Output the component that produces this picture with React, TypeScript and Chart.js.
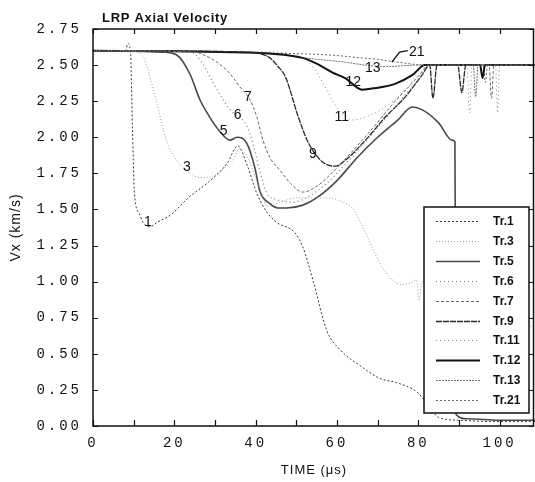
import React, { useEffect, useRef } from 'react';
import { Chart, registerables } from 'chart.js';

Chart.register(...registerables);

const TITLE = 'LRP Axial Velocity';
const X_TITLE = 'TIME (μs)';
const Y_TITLE = 'Vx (km/s)';
const X_MIN = 0;
const X_MAX = 108.7;
const Y_MIN = 0;
const Y_MAX = 2.75;

const tr1T = [0, 8, 8.6, 9.2, 9.7, 10.2, 11.4, 12.3, 14, 15.7, 19, 23.8, 28, 33, 35.6, 38, 40.3, 42.8, 45.2, 49.6, 51.6, 54.1, 57.5, 60.7, 66.1, 70.5, 74.7, 79.9, 82.5, 85, 90, 100, 108.7];
const tr1V = [2.6, 2.6, 2.65, 2.6, 2.07, 1.61, 1.47, 1.41, 1.38, 1.41, 1.46, 1.59, 1.68, 1.82, 1.94, 1.8, 1.61, 1.48, 1.41, 1.34, 1.24, 1.01, 0.66, 0.53, 0.41, 0.33, 0.3, 0.23, 0.14, 0.06, 0.04, 0.03, 0.03];

const tr3T = [0, 9, 12, 15.5, 18, 20.6, 24, 26.3, 29.5, 32, 34.4, 36, 38, 40.5, 43, 46, 50, 53, 57.5, 61.5, 64, 67, 70.5, 73.7, 76, 78, 79.6, 80.2, 81, 85, 95, 108.7];
const tr3V = [2.6, 2.6, 2.57, 2.26, 1.98, 1.84, 1.75, 1.72, 1.73, 1.78, 1.84, 1.92, 1.86, 1.68, 1.52, 1.55, 1.58, 1.58, 1.58, 1.55, 1.5, 1.34, 1.13, 1.01, 0.98, 0.99, 1.01, 0.87, 1.0, 0.95, 0.82, 0.68];

const tr5T = [0, 17, 20.6, 23.8, 26.3, 28.7, 31.2, 33.7, 35.4, 37.8, 39.8, 41, 43.5, 45.5, 47.6, 51.6, 55, 60, 65, 70, 75, 78.5, 81, 85, 88.3, 89, 89.3, 92, 100, 108.7];
const tr5V = [2.6, 2.59, 2.57, 2.44, 2.26, 2.14, 2.04, 1.98, 2.0, 1.96, 1.79, 1.63, 1.54, 1.51, 1.51, 1.53, 1.58, 1.7, 1.86, 2.0, 2.12, 2.21, 2.19, 2.1, 1.98, 1.97, 0.08, 0.05, 0.04, 0.04];

const tr6T = [0, 24, 27, 29.5, 32, 33.7, 37.8, 39.3, 41, 42.8, 45, 49, 53, 57, 62, 67, 72, 77, 80, 81.5, 83, 108.7];
const tr6V = [2.6, 2.59, 2.51, 2.38, 2.26, 2.19, 2.08, 1.96, 1.77, 1.61, 1.57, 1.55, 1.59, 1.67, 1.81, 1.97, 2.13, 2.3, 2.4, 2.47, 2.5, 2.5];

const tr7T = [0, 25, 28, 30.5, 33.7, 36.1, 38.6, 40.3, 41.8, 43.5, 46, 48.6, 51.6, 55, 59, 64, 69, 74, 78, 80.5, 82.5, 97.4, 98, 98.6, 108.7];
const tr7V = [2.6, 2.59, 2.56, 2.52, 2.44, 2.35, 2.26, 2.14, 1.98, 1.86, 1.77, 1.68, 1.62, 1.66, 1.76, 1.91, 2.07, 2.24, 2.36, 2.44, 2.5, 2.5, 2.27, 2.5, 2.5];

const tr9T = [0, 38, 41, 43.5, 45.5, 47.3, 50.5, 53, 56.4, 59.6, 62, 67, 71.9, 76.8, 80.9, 82.8, 83.6, 84.6, 89.7, 90.7, 91.7, 108.7];
const tr9V = [2.6, 2.59, 2.58, 2.55, 2.49, 2.42, 2.14, 1.96, 1.83, 1.8, 1.84, 1.98, 2.14, 2.28, 2.43, 2.5, 2.27, 2.5, 2.5, 2.31, 2.5, 2.5];

const tr11T = [0, 45, 51, 54, 57.1, 58.8, 61, 63.8, 67, 71.9, 77.5, 81.7, 92, 92.6, 93.2, 99, 99.5, 100, 108.7];
const tr11V = [2.6, 2.59, 2.56, 2.49, 2.35, 2.26, 2.17, 2.12, 2.14, 2.21, 2.35, 2.5, 2.5, 2.17, 2.5, 2.5, 2.17, 2.5, 2.5];

const tr12T = [0, 40, 51.5, 55, 58.8, 62, 66.2, 69.3, 74.3, 78.5, 81.7, 95.2, 95.8, 96.4, 108.7];
const tr12V = [2.6, 2.585, 2.55, 2.51, 2.45, 2.41, 2.33, 2.34, 2.37, 2.43, 2.5, 2.5, 2.41, 2.5, 2.5];

const tr13T = [0, 45, 52, 62, 67, 72, 80, 93.5, 94.1, 94.7, 108.7];
const tr13V = [2.6, 2.58, 2.55, 2.52, 2.5, 2.49, 2.5, 2.5, 2.28, 2.5, 2.5];

const tr21T = [0, 40, 58, 66, 70, 75, 82, 96, 96.5, 97, 108.7];
const tr21V = [2.6, 2.585, 2.57, 2.55, 2.54, 2.52, 2.5, 2.5, 2.38, 2.5, 2.5];

const SERIES_NAMES = ['Tr.1', 'Tr.3', 'Tr.5', 'Tr.6', 'Tr.7', 'Tr.9', 'Tr.11', 'Tr.12', 'Tr.13', 'Tr.21'];
const SERIES_T = [tr1T, tr3T, tr5T, tr6T, tr7T, tr9T, tr11T, tr12T, tr13T, tr21T];
const SERIES_V = [tr1V, tr3V, tr5V, tr6V, tr7V, tr9V, tr11V, tr12V, tr13V, tr21V];
const SERIES_COLORS = ['#3a3a3a', '#9a9a9a', '#4a4a4a', '#7a7a7a', '#666666', '#2a2a2a', '#8a8a8a', '#111111', '#707070', '#666666'];
const SERIES_WIDTHS = [1, 1, 1.6, 1.2, 1, 1.3, 1, 2, 1, 1];
const SERIES_DASHES = [[2, 2], [1, 2], [], [1, 3], [3, 2], [6, 1], [1, 3], [], [2, 1], [2, 2]];

const CURVE_LABELS = ['1', '3', '5', '6', '7', '9', '11', '12', '13', '21'];
const LABEL_T = [13.5, 23.1, 32.1, 35.6, 38.1, 54.1, 61.2, 64.0, 68.8, 79.6];
const LABEL_V = [1.41, 1.79, 2.04, 2.15, 2.28, 1.88, 2.14, 2.38, 2.48, 2.59];
const LEADER21_T = [73.5, 75.4, 77.4];
const LEADER21_V = [2.52, 2.59, 2.6];

const SANS = '"Liberation Sans", Arial, sans-serif';
const MONO = '"Liberation Mono", "DejaVu Sans Mono", monospace';

const decorPlugin = {
  id: 'decor',
  beforeDraw(chart: any) {
    chart.ctx.letterSpacing = '1px';
  },
  afterDatasetsDraw(chart: any) {
    const ctx = chart.ctx;
    const { left, right, top, bottom } = chart.chartArea;
    const xs = chart.scales.x;
    const ys = chart.scales.y;
    ctx.save();
    ctx.letterSpacing = '0px';
    ctx.setLineDash([]);
    ctx.strokeStyle = '#111';
    ctx.lineWidth = 1.5;
    ctx.strokeRect(left, top, right - left - 1.5, bottom - top);
    ctx.lineWidth = 1.2;
    xs.ticks.forEach((t: any) => {
      const px = Math.round(xs.getPixelForValue(t.value)) + 0.5;
      ctx.beginPath();
      ctx.moveTo(px, bottom);
      ctx.lineTo(px, bottom - 6);
      ctx.moveTo(px, top);
      ctx.lineTo(px, top + 5);
      ctx.stroke();
    });
    ys.ticks.forEach((t: any) => {
      const py = Math.round(ys.getPixelForValue(t.value)) + 0.5;
      ctx.beginPath();
      ctx.moveTo(left, py);
      ctx.lineTo(left + 5, py);
      ctx.moveTo(right - 1.5, py);
      ctx.lineTo(right - 6, py);
      ctx.stroke();
    });
    // curve labels
    ctx.fillStyle = '#111';
    ctx.font = '14px ' + SANS;
    ctx.textAlign = 'center';
    ctx.textBaseline = 'middle';
    CURVE_LABELS.forEach((s, i) => {
      ctx.fillText(s, xs.getPixelForValue(LABEL_T[i]), ys.getPixelForValue(LABEL_V[i]));
    });
    ctx.beginPath();
    ctx.lineWidth = 1.3;
    LEADER21_T.forEach((t, i) => {
      const px = xs.getPixelForValue(t);
      const py = ys.getPixelForValue(LEADER21_V[i]);
      if (i === 0) ctx.moveTo(px, py);
      else ctx.lineTo(px, py);
    });
    ctx.stroke();
    ctx.restore();
    ctx.letterSpacing = '3px';
  },
  afterDraw(chart: any) {
    const ctx = chart.ctx;
    ctx.letterSpacing = '0px';
    const { left, right, bottom } = chart.chartArea;
    ctx.save();
    // title
    ctx.fillStyle = '#111';
    ctx.font = 'bold 13px ' + SANS;
    ctx.textAlign = 'left';
    ctx.textBaseline = 'middle';
    ctx.letterSpacing = '0.7px';
    ctx.fillText(TITLE, left + 9, 18);
    ctx.letterSpacing = '0px';
    // legend
    const boxR = right - 6;
    const boxL = boxR - 105;
    const boxB = bottom - 13;
    const boxT = boxB - 206;
    ctx.fillStyle = '#fff';
    ctx.fillRect(boxL, boxT, boxR - boxL, boxB - boxT);
    ctx.strokeStyle = '#111';
    ctx.lineWidth = 1.5;
    ctx.setLineDash([]);
    ctx.strokeRect(boxL, boxT, boxR - boxL, boxB - boxT);
    chart.data.datasets.forEach((ds: any, i: number) => {
      const y = Math.round(boxT + 14 + i * 19.9) + 0.5;
      ctx.strokeStyle = ds.borderColor;
      ctx.lineWidth = ds.borderWidth;
      ctx.setLineDash(ds.borderDash);
      ctx.beginPath();
      ctx.moveTo(boxL + 12, y);
      ctx.lineTo(boxL + 56, y);
      ctx.stroke();
      ctx.setLineDash([]);
      ctx.fillStyle = '#111';
      ctx.font = 'bold 12px ' + SANS;
      ctx.textAlign = 'left';
      ctx.textBaseline = 'middle';
      ctx.fillText(ds.label, boxL + 69, y + 0.5);
    });
    ctx.restore();
  },
};

export default function App() {
  const ref = useRef<HTMLCanvasElement>(null);
  useEffect(() => {
    if (!ref.current) return;
    const datasets = SERIES_NAMES.map((name, i) => ({
      label: name,
      data: SERIES_T[i].map((t, j) => ({ x: t, y: SERIES_V[i][j] })),
      borderColor: SERIES_COLORS[i],
      borderWidth: SERIES_WIDTHS[i],
      borderDash: SERIES_DASHES[i],
      pointRadius: 0,
      fill: false,
      cubicInterpolationMode: 'monotone' as const,
    }));
    const chart = new Chart(ref.current, {
      type: 'line',
      data: { datasets },
      options: {
        animation: false,
        responsive: false,
        devicePixelRatio: 1,
        layout: { padding: { top: 29, left: 0, right: 0, bottom: 0 } },
        plugins: { legend: { display: false }, title: { display: false }, tooltip: { enabled: false } },
        scales: {
          x: {
            type: 'linear',
            min: X_MIN,
            max: X_MAX,
            grid: { display: false, drawTicks: false },
            border: { display: false },
            ticks: {
              stepSize: 10,
              includeBounds: false,
              autoSkip: false,
              maxRotation: 0,
              padding: 9,
              z: 1,
              color: '#111',
              font: { family: MONO, size: 14 },
              callback: (v: any) => (Number(v) % 20 === 0 ? String(v) : ''),
            },
            title: { display: true, text: X_TITLE, color: '#111', font: { family: SANS, size: 13 }, padding: { top: 0, bottom: 4 } },
            afterFit: (s: any) => { s.height = 56; },
          },
          y: {
            type: 'linear',
            min: Y_MIN,
            max: Y_MAX,
            grid: { display: false, drawTicks: false },
            border: { display: false },
            ticks: {
              stepSize: 0.25,
              padding: 11,
              z: 1,
              color: '#111',
              font: { family: MONO, size: 14 },
              callback: (v: any) => Number(v).toFixed(2),
            },
            title: { display: true, text: Y_TITLE, color: '#111', font: { family: SANS, size: 14 }, padding: { top: 8, bottom: 0 } },
            afterFit: (s: any) => { s.width = 93; },
          },
        },
      },
      plugins: [decorPlugin],
    });
    return () => chart.destroy();
  }, []);
  return (
    <div style={{ position: 'fixed', left: 0, top: 0, width: 535, height: 482, background: '#fff' }}>
      <canvas ref={ref} width={535} height={482} />
    </div>
  );
}
